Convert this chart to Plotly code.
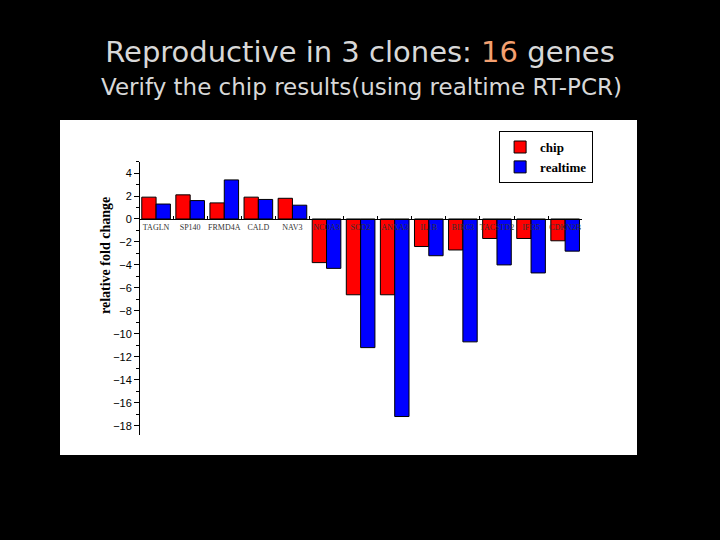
import plotly.graph_objects as go

GENES = [
    "TAGLN", "SP140", "FRMD4A", "CALD", "NAV3", "NCOA3", "SOD2",
    "ANXA3", "IL1B", "BIRC3", "TACSTD2", "IFI35", "CDKN2B",
]
CHIP = [1.9, 2.1, 1.4, 1.9, 1.8, -3.8, -6.6, -6.6, -2.4, -2.7, -1.7, -1.7, -1.9]
REALTIME = [1.3, 1.6, 3.4, 1.7, 1.2, -4.3, -11.2, -17.2, -3.2, -10.7, -4.0, -4.7, -2.8]
Y_TICKS = list(range(-18, 5, 2))

TITLE = "Reproductive in 3 clones: <span style='color:#f4a070'>16</span> genes"
SUBTITLE = "Verify the chip results(using realtime RT-PCR)"
Y_TITLE = "<b>relative fold change</b>"

SERIF = "Liberation Serif"
SLIDE_FONT = "DejaVu Sans"

# white panel on the slide, in pixels: x 60..637, y 120..455
fig = go.Figure(
    data=[
        go.Bar(
            name="<b>chip</b>",
            x=GENES,
            y=CHIP,
            marker={"color": "#ff0000", "line": {"color": "#000000", "width": 1}},
        ),
        go.Bar(
            name="<b>realtime</b>",
            x=GENES,
            y=REALTIME,
            marker={"color": "#0000ff", "line": {"color": "#000000", "width": 1}},
        ),
    ]
)

fig.update_layout(
    width=720,
    height=540,
    paper_bgcolor="#000000",
    plot_bgcolor="#ffffff",
    margin={"l": 60, "r": 83, "t": 120, "b": 85, "pad": 0},
    barmode="group",
    bargap=0.16,
    bargroupgap=0,
    showlegend=True,
    shapes=[
        {
            "type": "rect",
            "xref": "paper",
            "yref": "paper",
            "x0": 0,
            "x1": 1,
            "y0": 0,
            "y1": 1,
            "fillcolor": "#ffffff",
            "line": {"width": 0},
            "layer": "below",
        }
    ],
    legend={
        "x": 0.761,
        "y": 0.967,
        "xanchor": "left",
        "yanchor": "top",
        "bgcolor": "#ffffff",
        "bordercolor": "#000000",
        "borderwidth": 1,
        "font": {"family": SERIF, "size": 13, "color": "#000000"},
        "tracegroupgap": 0,
        "itemwidth": 30,
    },
    title={
        "text": TITLE,
        "x": 0.5,
        "xanchor": "center",
        "y": 1 - 52 / 540,
        "yanchor": "middle",
        "font": {"family": SLIDE_FONT, "size": 29, "color": "#d8d8d8"},
    },
    annotations=[
        {
            "text": SUBTITLE,
            "xref": "paper",
            "yref": "paper",
            "x": (361 - 60) / 577,
            "y": (455 - 87) / 335,
            "xanchor": "center",
            "yanchor": "middle",
            "showarrow": False,
            "font": {"family": SLIDE_FONT, "size": 23, "color": "#d8d8d8"},
        },
        {
            "text": Y_TITLE,
            "xref": "paper",
            "yref": "paper",
            "x": (105 - 60) / 577,
            "y": (455 - 256) / 335,
            "xanchor": "center",
            "yanchor": "middle",
            "textangle": -90,
            "showarrow": False,
            "font": {"family": SERIF, "size": 14, "color": "#000000"},
        },
    ],
    xaxis={
        "domain": [0.137, 0.905],
        "anchor": "free",
        "position": (455 - 219.3) / 335,
        "showline": True,
        "linecolor": "#000000",
        "linewidth": 1,
        "ticks": "inside",
        "ticklen": 3,
        "tickcolor": "#000000",
        "tickson": "boundaries",
        "ticklabelposition": "outside",
        "tickangle": 0,
        "tickfont": {"family": SERIF, "size": 8, "color": "#333333"},
        "showgrid": False,
        "zeroline": False,
    },
    yaxis={
        "domain": [0.06, 0.876],
        "anchor": "free",
        "position": 0.137,
        "range": [-18.8, 5.0],
        "tickvals": Y_TICKS,
        "ticks": "outside",
        "ticklen": 5,
        "tickcolor": "#000000",
        "minor": {"dtick": 1, "ticks": "outside", "ticklen": 3, "tickcolor": "#000000"},
        "showline": True,
        "linecolor": "#000000",
        "linewidth": 1,
        "showgrid": False,
        "zeroline": False,
        "tickfont": {"family": "Liberation Sans", "size": 11, "color": "#000000"},
    },
)

fig.write_html(
    "out.html",
    config={"displayModeBar": False},
    post_script="document.body.style.margin='0';document.body.style.background='#000';",
)
